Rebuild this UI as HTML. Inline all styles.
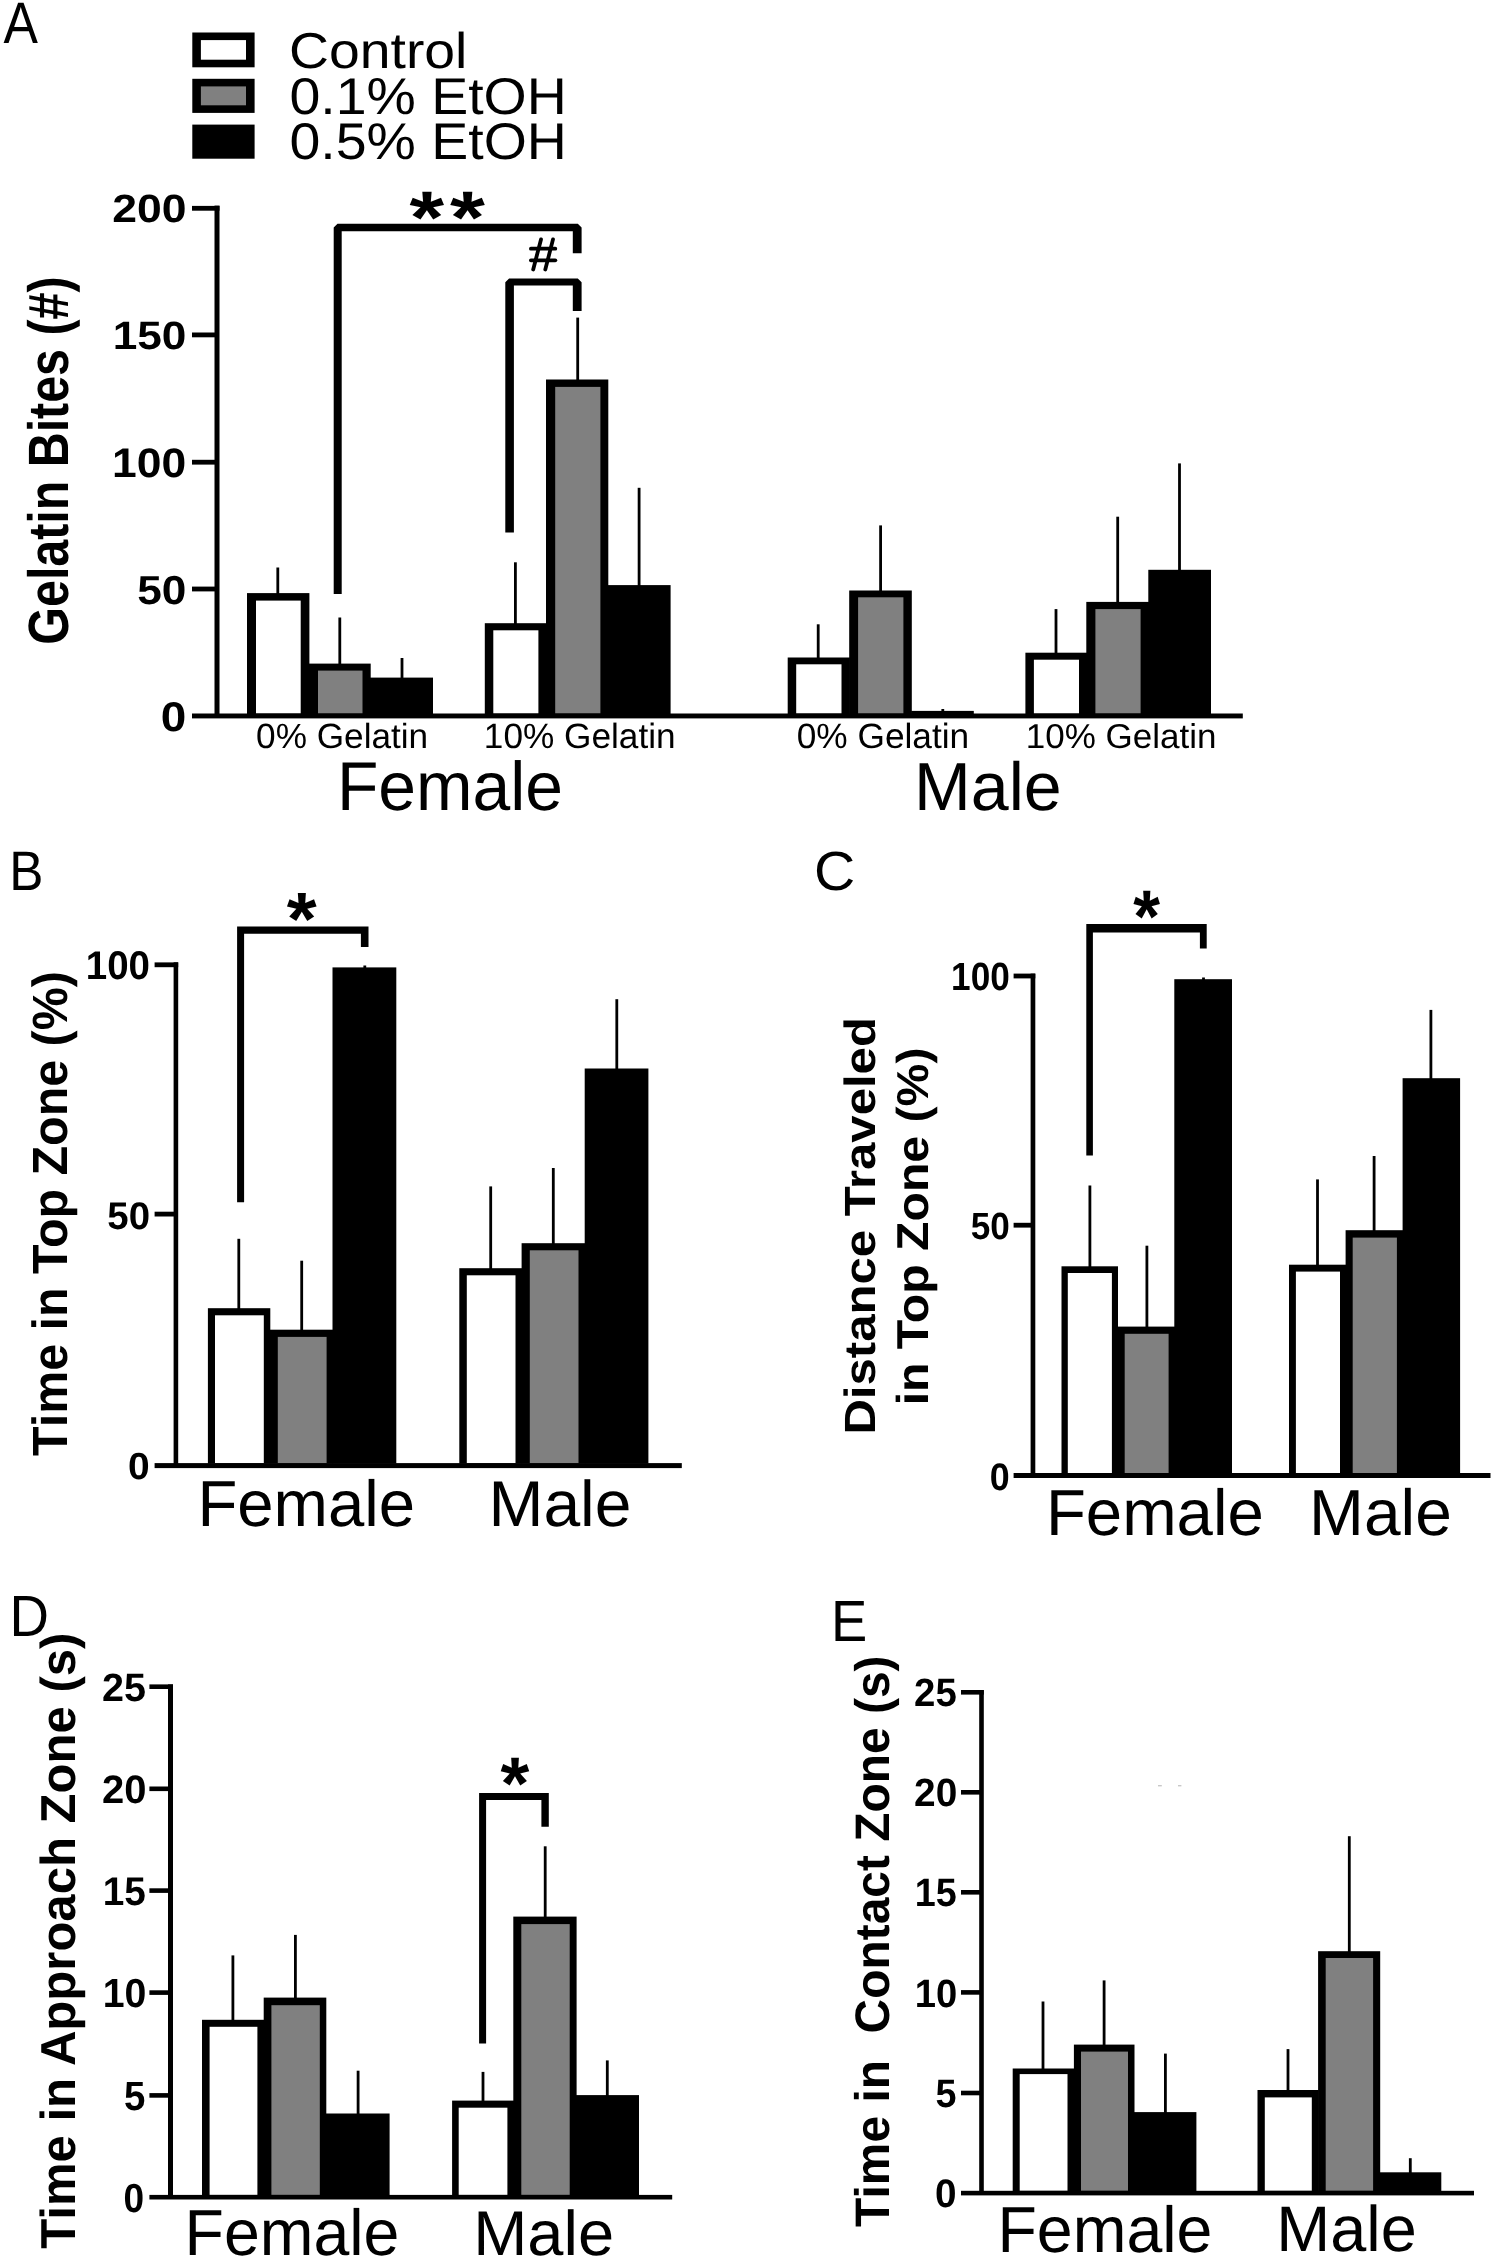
<!DOCTYPE html>
<html><head><meta charset="utf-8"><title>Figure</title>
<style>
html,body{margin:0;padding:0;background:#fff;}
svg{display:block;will-change:transform;}
text{font-family:"Liberation Sans",sans-serif;white-space:pre;text-rendering:geometricPrecision;}
</style></head><body>
<svg width="1493" height="2260" viewBox="0 0 1493 2260">
<rect x="0" y="0" width="1493" height="2260" fill="#fff"/>
<text transform="translate(3.47 42.60) scale(0.8828 1)" font-size="58.473" font-weight="normal" fill="#000">A</text>
<rect x="192.30" y="32.50" width="62.30" height="34.80" fill="#000"/>
<rect x="200.90" y="40.10" width="45.10" height="19.60" fill="#fff"/>
<rect x="192.30" y="78.80" width="62.30" height="34.10" fill="#000"/>
<rect x="200.90" y="86.40" width="45.10" height="18.90" fill="#808080"/>
<rect x="192.30" y="124.60" width="62.30" height="34.10" fill="#000"/>
<text transform="translate(289.03 68.00) scale(1.0995 1)" font-size="50.340" font-weight="normal" fill="#000">Control</text>
<text transform="translate(289.48 113.68) scale(1.0719 1)" font-size="51.731" font-weight="normal" fill="#000">0.1% EtOH</text>
<text transform="translate(289.48 159.09) scale(1.0778 1)" font-size="51.449" font-weight="normal" fill="#000">0.5% EtOH</text>
<rect x="276.40" y="567.50" width="2.80" height="27.60" fill="#000"/>
<rect x="247.00" y="593.10" width="62.40" height="121.00" fill="#000"/>
<rect x="256.00" y="600.60" width="44.70" height="112.90" fill="#fff"/>
<rect x="338.40" y="617.50" width="2.80" height="48.10" fill="#000"/>
<rect x="308.70" y="663.60" width="62.00" height="50.50" fill="#000"/>
<rect x="318.00" y="670.60" width="44.50" height="42.90" fill="#808080"/>
<rect x="400.60" y="658.00" width="2.80" height="21.60" fill="#000"/>
<rect x="370.00" y="677.60" width="63.00" height="36.50" fill="#000"/>
<rect x="514.00" y="562.30" width="2.80" height="62.90" fill="#000"/>
<rect x="484.80" y="623.20" width="61.90" height="90.90" fill="#000"/>
<rect x="493.30" y="630.30" width="45.10" height="83.20" fill="#fff"/>
<rect x="576.30" y="317.60" width="2.80" height="63.90" fill="#000"/>
<rect x="546.00" y="379.50" width="62.30" height="334.60" fill="#000"/>
<rect x="555.20" y="386.90" width="45.20" height="326.60" fill="#808080"/>
<rect x="637.70" y="487.80" width="2.80" height="99.30" fill="#000"/>
<rect x="607.60" y="585.10" width="63.00" height="129.00" fill="#000"/>
<rect x="816.80" y="624.30" width="2.80" height="35.20" fill="#000"/>
<rect x="787.70" y="657.50" width="62.20" height="56.60" fill="#000"/>
<rect x="796.20" y="664.30" width="45.30" height="49.20" fill="#fff"/>
<rect x="879.20" y="525.40" width="2.80" height="67.10" fill="#000"/>
<rect x="849.20" y="590.50" width="62.60" height="123.60" fill="#000"/>
<rect x="858.10" y="597.30" width="45.30" height="116.20" fill="#808080"/>
<rect x="941.40" y="709.00" width="2.80" height="3.90" fill="#000"/>
<rect x="911.10" y="710.90" width="62.70" height="3.20" fill="#000"/>
<rect x="1054.60" y="609.10" width="2.80" height="45.60" fill="#000"/>
<rect x="1025.40" y="652.70" width="61.60" height="61.40" fill="#000"/>
<rect x="1033.90" y="659.70" width="45.10" height="53.80" fill="#fff"/>
<rect x="1116.30" y="516.70" width="2.80" height="87.20" fill="#000"/>
<rect x="1086.30" y="601.90" width="62.70" height="112.20" fill="#000"/>
<rect x="1095.40" y="609.10" width="45.20" height="104.40" fill="#808080"/>
<rect x="1178.10" y="463.40" width="2.80" height="108.40" fill="#000"/>
<rect x="1148.30" y="569.80" width="62.70" height="144.30" fill="#000"/>
<rect x="214.50" y="205.60" width="5.00" height="509.40" fill="#000"/>
<rect x="192.00" y="205.90" width="27.50" height="4.80" fill="#000"/>
<rect x="192.00" y="332.50" width="24.00" height="4.80" fill="#000"/>
<rect x="192.00" y="459.80" width="24.00" height="4.80" fill="#000"/>
<rect x="192.00" y="586.60" width="24.00" height="4.80" fill="#000"/>
<rect x="192.00" y="713.50" width="1050.80" height="4.90" fill="#000"/>
<polygon points="333.70,594.00 333.70,227.60 337.50,223.80 577.80,223.80 581.60,227.60 581.60,253.30 572.80,253.30 572.80,231.20 341.70,231.20 341.70,594.00" fill="#000"/>
<polygon points="505.30,532.60 505.30,282.30 509.10,278.50 577.80,278.50 581.60,282.30 581.60,311.00 572.80,311.00 572.80,285.50 513.90,285.50 513.90,532.60" fill="#000"/>
<text transform="translate(409.48 243.31) scale(1.1903 1)" font-size="74.631" font-weight="bold" fill="#000">*</text>
<text transform="translate(449.98 243.31) scale(1.2007 1)" font-size="74.631" font-weight="bold" fill="#000">*</text>
<g stroke="#000" stroke-width="3.8" stroke-linecap="round" fill="none"><line x1="530.90" y1="248.7" x2="555.30" y2="248.7"/><line x1="530.90" y1="260.3" x2="555.30" y2="260.3"/><line x1="541.0" y1="239.40" x2="533.2" y2="269.50"/><line x1="553.0" y1="239.40" x2="545.3" y2="269.50"/></g>
<text transform="translate(112.14 222.30) scale(1.1250 1)" font-size="39.576" font-weight="bold" fill="#000">200</text>
<text transform="translate(112.64 349.10) scale(1.1173 1)" font-size="39.576" font-weight="bold" fill="#000">150</text>
<text transform="translate(112.12 476.79) scale(1.0776 1)" font-size="41.272" font-weight="bold" fill="#000">100</text>
<text transform="translate(137.17 603.60) scale(1.0942 1)" font-size="40.424" font-weight="bold" fill="#000">50</text>
<text transform="translate(160.86 731.09) scale(1.1082 1)" font-size="41.413" font-weight="bold" fill="#000">0</text>
<text transform="translate(256.09 748.25) scale(1.0065 1)" font-size="34.966" font-weight="normal" fill="#000">0% Gelatin</text>
<text transform="translate(483.86 748.25) scale(1.0027 1)" font-size="35.102" font-weight="normal" fill="#000">10% Gelatin</text>
<text transform="translate(796.69 748.05) scale(1.0050 1)" font-size="35.102" font-weight="normal" fill="#000">0% Gelatin</text>
<text transform="translate(1025.77 748.05) scale(1.0135 1)" font-size="34.558" font-weight="normal" fill="#000">10% Gelatin</text>
<text transform="translate(336.91 810.31) scale(0.9830 1)" font-size="68.980" font-weight="normal" fill="#000">Female</text>
<text transform="translate(914.08 809.52) scale(1.0018 1)" font-size="68.027" font-weight="normal" fill="#000">Male</text>
<text transform="translate(68.21 644.63) rotate(-90) scale(0.8511 1)" font-size="56.836" font-weight="bold" fill="#000">Gelatin Bites (#)</text>
<text transform="translate(9.27 890.10) scale(0.9203 1)" font-size="55.709" font-weight="normal" fill="#000">B</text>
<rect x="237.40" y="1238.80" width="2.80" height="71.40" fill="#000"/>
<rect x="207.90" y="1308.20" width="62.40" height="155.50" fill="#000"/>
<rect x="215.00" y="1315.30" width="48.80" height="147.80" fill="#fff"/>
<rect x="300.30" y="1260.70" width="2.80" height="71.00" fill="#000"/>
<rect x="269.60" y="1329.70" width="63.60" height="134.00" fill="#000"/>
<rect x="277.80" y="1336.90" width="48.80" height="126.20" fill="#808080"/>
<rect x="363.40" y="965.50" width="2.80" height="3.90" fill="#000"/>
<rect x="332.50" y="967.40" width="63.80" height="496.30" fill="#000"/>
<rect x="489.30" y="1186.40" width="2.80" height="83.80" fill="#000"/>
<rect x="459.30" y="1268.20" width="63.00" height="195.50" fill="#000"/>
<rect x="466.80" y="1275.30" width="48.70" height="187.80" fill="#fff"/>
<rect x="551.90" y="1168.00" width="2.80" height="77.20" fill="#000"/>
<rect x="521.60" y="1243.20" width="63.80" height="220.50" fill="#000"/>
<rect x="529.80" y="1250.30" width="48.70" height="212.80" fill="#808080"/>
<rect x="615.40" y="999.20" width="2.80" height="71.30" fill="#000"/>
<rect x="584.70" y="1068.50" width="63.70" height="395.20" fill="#000"/>
<rect x="173.60" y="962.30" width="4.60" height="502.20" fill="#000"/>
<rect x="154.60" y="962.40" width="23.60" height="4.80" fill="#000"/>
<rect x="154.60" y="1211.70" width="20.40" height="4.80" fill="#000"/>
<rect x="154.60" y="1463.10" width="527.20" height="5.00" fill="#000"/>
<polygon points="237.10,1202.20 237.10,926.40 237.10,926.40 368.50,926.40 368.50,926.40 368.50,946.90 360.90,946.90 360.90,933.70 244.10,933.70 244.10,1202.20" fill="#000"/>
<text transform="translate(286.71 945.45) scale(1.0156 1)" font-size="75.705" font-weight="bold" fill="#000">*</text>
<text transform="translate(85.80 979.20) scale(0.9617 1)" font-size="40.000" font-weight="bold" fill="#000">100</text>
<text transform="translate(107.35 1229.02) scale(0.9979 1)" font-size="38.445" font-weight="bold" fill="#000">50</text>
<text transform="translate(128.04 1478.82) scale(1.0320 1)" font-size="37.739" font-weight="bold" fill="#000">0</text>
<text transform="translate(197.41 1525.95) scale(1.0043 1)" font-size="65.034" font-weight="normal" fill="#000">Female</text>
<text transform="translate(488.46 1525.65) scale(1.0212 1)" font-size="64.626" font-weight="normal" fill="#000">Male</text>
<text transform="translate(66.54 1455.98) rotate(-90) scale(0.9793 1)" font-size="49.437" font-weight="bold" fill="#000">Time in Top Zone (%)</text>
<text transform="translate(814.05 890.25) scale(1.0328 1)" font-size="55.265" font-weight="normal" fill="#000">C</text>
<rect x="1088.50" y="1185.50" width="2.80" height="82.80" fill="#000"/>
<rect x="1061.50" y="1266.30" width="56.50" height="207.30" fill="#000"/>
<rect x="1067.80" y="1273.00" width="44.10" height="200.00" fill="#fff"/>
<rect x="1145.50" y="1245.70" width="2.80" height="82.90" fill="#000"/>
<rect x="1117.30" y="1326.60" width="57.70" height="147.00" fill="#000"/>
<rect x="1124.70" y="1333.80" width="43.90" height="139.20" fill="#808080"/>
<rect x="1202.10" y="977.50" width="2.80" height="3.70" fill="#000"/>
<rect x="1174.30" y="979.20" width="57.70" height="494.40" fill="#000"/>
<rect x="1316.10" y="1179.40" width="2.80" height="87.30" fill="#000"/>
<rect x="1289.00" y="1264.70" width="57.30" height="208.90" fill="#000"/>
<rect x="1295.90" y="1271.60" width="44.10" height="201.40" fill="#fff"/>
<rect x="1372.70" y="1156.00" width="2.80" height="76.20" fill="#000"/>
<rect x="1345.60" y="1230.20" width="57.70" height="243.40" fill="#000"/>
<rect x="1352.70" y="1237.60" width="44.20" height="235.40" fill="#808080"/>
<rect x="1429.50" y="1009.90" width="2.80" height="70.30" fill="#000"/>
<rect x="1402.60" y="1078.20" width="57.50" height="395.40" fill="#000"/>
<rect x="1030.60" y="973.60" width="4.70" height="500.90" fill="#000"/>
<rect x="1013.60" y="973.60" width="21.70" height="4.80" fill="#000"/>
<rect x="1013.60" y="1222.80" width="18.40" height="4.80" fill="#000"/>
<rect x="1013.60" y="1473.00" width="476.90" height="5.00" fill="#000"/>
<polygon points="1086.30,1155.50 1086.30,924.10 1086.30,924.10 1206.70,924.10 1206.70,924.10 1206.70,948.40 1199.90,948.40 1199.90,932.40 1092.90,932.40 1092.90,1155.50" fill="#000"/>
<text transform="translate(1133.13 942.11) scale(0.9223 1)" font-size="74.631" font-weight="bold" fill="#000">*</text>
<text transform="translate(951.10 989.71) scale(0.8912 1)" font-size="39.435" font-weight="bold" fill="#000">100</text>
<text transform="translate(970.75 1238.92) scale(0.9265 1)" font-size="37.880" font-weight="bold" fill="#000">50</text>
<text transform="translate(989.67 1489.72) scale(0.9344 1)" font-size="38.304" font-weight="bold" fill="#000">0</text>
<text transform="translate(1045.91 1535.25) scale(1.0048 1)" font-size="65.034" font-weight="normal" fill="#000">Female</text>
<text transform="translate(1309.06 1534.95) scale(1.0112 1)" font-size="65.170" font-weight="normal" fill="#000">Male</text>
<text transform="translate(874.56 1434.62) rotate(-90) scale(1.1246 1)" font-size="43.673" font-weight="bold" fill="#000">Distance Traveled</text>
<text transform="translate(927.52 1405.37) rotate(-90) scale(1.0782 1)" font-size="44.718" font-weight="bold" fill="#000">in Top Zone (%)</text>
<text transform="translate(9.59 1636.20) scale(0.9399 1)" font-size="58.182" font-weight="normal" fill="#000">D</text>
<rect x="231.50" y="1955.40" width="2.80" height="66.40" fill="#000"/>
<rect x="202.00" y="2019.80" width="62.40" height="175.70" fill="#000"/>
<rect x="209.60" y="2026.80" width="47.80" height="168.10" fill="#fff"/>
<rect x="294.00" y="1934.90" width="2.80" height="64.70" fill="#000"/>
<rect x="263.70" y="1997.60" width="62.60" height="197.90" fill="#000"/>
<rect x="271.40" y="2005.20" width="48.40" height="189.70" fill="#808080"/>
<rect x="356.70" y="2070.70" width="2.80" height="44.80" fill="#000"/>
<rect x="325.60" y="2113.50" width="64.00" height="82.00" fill="#000"/>
<rect x="481.60" y="2071.90" width="2.80" height="30.70" fill="#000"/>
<rect x="452.10" y="2100.60" width="61.90" height="94.90" fill="#000"/>
<rect x="458.70" y="2107.70" width="48.70" height="87.20" fill="#fff"/>
<rect x="543.80" y="1846.30" width="2.80" height="72.30" fill="#000"/>
<rect x="513.30" y="1916.60" width="63.30" height="278.90" fill="#000"/>
<rect x="521.30" y="1924.10" width="48.40" height="270.80" fill="#808080"/>
<rect x="605.90" y="2060.40" width="2.80" height="36.70" fill="#000"/>
<rect x="575.90" y="2095.10" width="63.10" height="100.40" fill="#000"/>
<rect x="168.00" y="1684.40" width="5.00" height="512.10" fill="#000"/>
<rect x="149.40" y="1684.40" width="23.60" height="4.60" fill="#000"/>
<rect x="149.40" y="1786.50" width="20.10" height="4.60" fill="#000"/>
<rect x="149.40" y="1888.30" width="20.10" height="4.60" fill="#000"/>
<rect x="149.40" y="1990.30" width="20.10" height="4.60" fill="#000"/>
<rect x="149.40" y="2093.10" width="20.10" height="4.60" fill="#000"/>
<rect x="149.40" y="2194.90" width="522.80" height="4.60" fill="#000"/>
<polygon points="479.10,2043.60 479.10,1792.90 479.10,1792.90 548.80,1792.90 548.80,1792.90 548.80,1826.70 541.40,1826.70 541.40,1799.90 486.10,1799.90 486.10,2043.60" fill="#000"/>
<text transform="translate(500.41 1808.82) scale(0.9955 1)" font-size="74.362" font-weight="bold" fill="#000">*</text>
<text transform="translate(101.92 1701.20) scale(0.9987 1)" font-size="39.576" font-weight="bold" fill="#000">25</text>
<text transform="translate(101.90 1803.10) scale(1.0071 1)" font-size="39.717" font-weight="bold" fill="#000">20</text>
<text transform="translate(102.67 1904.80) scale(0.9671 1)" font-size="40.143" font-weight="bold" fill="#000">15</text>
<text transform="translate(102.64 2007.29) scale(0.9689 1)" font-size="40.565" font-weight="bold" fill="#000">10</text>
<text transform="translate(123.95 2109.69) scale(0.9396 1)" font-size="40.860" font-weight="bold" fill="#000">5</text>
<text transform="translate(123.62 2211.69) scale(0.9134 1)" font-size="40.565" font-weight="bold" fill="#000">0</text>
<text transform="translate(184.58 2254.85) scale(0.9909 1)" font-size="65.034" font-weight="normal" fill="#000">Female</text>
<text transform="translate(473.24 2254.87) scale(1.0269 1)" font-size="63.265" font-weight="normal" fill="#000">Male</text>
<text transform="translate(74.91 2248.79) rotate(-90) scale(0.9992 1)" font-size="49.115" font-weight="bold" fill="#000">Time in Approach Zone (s)</text>
<text transform="translate(831.01 1640.60) scale(0.9370 1)" font-size="58.036" font-weight="normal" fill="#000">E</text>
<rect x="1041.60" y="2001.50" width="2.80" height="69.00" fill="#000"/>
<rect x="1012.70" y="2068.50" width="61.90" height="122.90" fill="#000"/>
<rect x="1019.70" y="2074.10" width="47.80" height="116.70" fill="#fff"/>
<rect x="1102.70" y="1980.40" width="2.80" height="66.20" fill="#000"/>
<rect x="1073.90" y="2044.60" width="60.60" height="146.80" fill="#000"/>
<rect x="1081.00" y="2051.60" width="47.00" height="139.20" fill="#808080"/>
<rect x="1164.00" y="2053.60" width="2.80" height="60.50" fill="#000"/>
<rect x="1133.80" y="2112.10" width="62.60" height="79.30" fill="#000"/>
<rect x="1286.60" y="2049.10" width="2.80" height="42.90" fill="#000"/>
<rect x="1257.50" y="2090.00" width="61.30" height="101.40" fill="#000"/>
<rect x="1264.80" y="2097.40" width="47.00" height="93.40" fill="#fff"/>
<rect x="1347.90" y="1836.20" width="2.80" height="117.00" fill="#000"/>
<rect x="1318.10" y="1951.20" width="62.10" height="240.20" fill="#000"/>
<rect x="1325.70" y="1958.00" width="47.40" height="232.80" fill="#808080"/>
<rect x="1408.90" y="2158.20" width="2.80" height="16.10" fill="#000"/>
<rect x="1379.50" y="2172.30" width="61.80" height="19.10" fill="#000"/>
<rect x="979.20" y="1690.10" width="4.60" height="502.20" fill="#000"/>
<rect x="961.00" y="1690.00" width="22.80" height="4.60" fill="#000"/>
<rect x="961.00" y="1790.00" width="19.50" height="4.60" fill="#000"/>
<rect x="961.00" y="1890.00" width="19.50" height="4.60" fill="#000"/>
<rect x="961.00" y="1990.10" width="19.50" height="4.60" fill="#000"/>
<rect x="961.00" y="2090.70" width="19.50" height="4.60" fill="#000"/>
<rect x="961.00" y="2190.80" width="513.00" height="4.60" fill="#000"/>
<text transform="translate(914.06 1706.20) scale(0.9697 1)" font-size="39.576" font-weight="bold" fill="#000">25</text>
<text transform="translate(914.04 1806.30) scale(0.9814 1)" font-size="39.576" font-weight="bold" fill="#000">20</text>
<text transform="translate(914.74 1906.30) scale(0.9539 1)" font-size="39.570" font-weight="bold" fill="#000">15</text>
<text transform="translate(914.71 2006.60) scale(0.9656 1)" font-size="39.576" font-weight="bold" fill="#000">10</text>
<text transform="translate(935.47 2107.10) scale(0.9515 1)" font-size="39.713" font-weight="bold" fill="#000">5</text>
<text transform="translate(935.05 2207.10) scale(0.9719 1)" font-size="39.859" font-weight="bold" fill="#000">0</text>
<text transform="translate(997.48 2252.05) scale(0.9914 1)" font-size="65.034" font-weight="normal" fill="#000">Female</text>
<text transform="translate(1276.36 2251.06) scale(1.0044 1)" font-size="64.490" font-weight="normal" fill="#000">Male</text>
<text transform="translate(888.84 2226.88) rotate(-90) scale(0.9885 1)" font-size="48.472" font-weight="bold" fill="#000">Time in  Contact Zone (s)</text>
<rect x="1158.00" y="1785.00" width="3.80" height="1.40" fill="#c8c8c8"/>
<rect x="1178.00" y="1785.00" width="3.40" height="1.40" fill="#c8c8c8"/>
</svg>
</body></html>
